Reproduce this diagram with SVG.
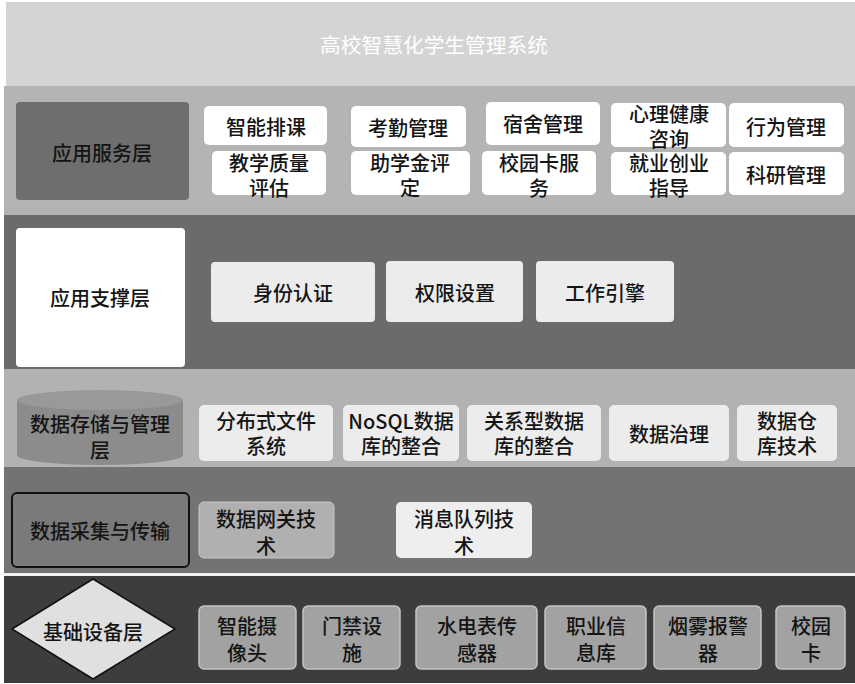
<svg xmlns="http://www.w3.org/2000/svg" width="855" height="684" viewBox="0 0 855 684">
<style>
text{font-family:"Noto Sans CJK SC","Noto Sans",sans-serif;font-size:20px;font-weight:500;fill:#141414;text-anchor:middle;dominant-baseline:central}
.w{fill:#ffffff;font-weight:400}
.sv{fill:#ffffff}
.lg{fill:#ececec}
.bs{fill:#a2a2a2;stroke:#c4c4c4;stroke-width:1.5}
</style>
<rect width="855" height="684" fill="#ffffff"/>
<g id="header">
<rect x="6" y="2" width="849" height="85" fill="#d4d4d4"/>
<text class="w" x="434" y="44" font-size="24" textLength="228" lengthAdjust="spacingAndGlyphs">高校智慧化学生管理系统</text>
</g>
<g id="bands">
<rect x="4" y="86" width="851" height="129" fill="#b4b4b4"/>
<rect x="4" y="215" width="851" height="154" fill="#6b6b6b"/>
<rect x="4" y="369" width="851" height="98" fill="#b2b2b2"/>
<rect x="4" y="467" width="851" height="106" fill="#737373"/>
<rect x="4" y="573" width="851" height="3" fill="#f0f0f0"/>
<rect x="4" y="576" width="851" height="107" fill="#3d3d3d"/>
</g>
<g id="layer-service">
<rect x="16" y="102" width="173" height="98" rx="4" fill="#6e6e6e"/>
<text x="102" y="152">应用服务层</text>
</g>
<g id="n-znpk"><rect class="sv" x="204" y="106" width="123" height="39" rx="5"/><text x="266" y="126">智能排课</text></g>
<g id="n-kqgl"><rect class="sv" x="351" y="106" width="115" height="41" rx="5"/><text x="408" y="127">考勤管理</text></g>
<g id="n-ssgl"><rect class="sv" x="486" y="102" width="114" height="43" rx="5"/><text x="543" y="123">宿舍管理</text></g>
<g id="n-xljk"><rect class="sv" x="611" y="103" width="115" height="44" rx="5"/><text x="669" y="113">心理健康</text><text x="669" y="138">咨询</text></g>
<g id="n-xwgl"><rect class="sv" x="729" y="103" width="115" height="44" rx="5"/><text x="786" y="126">行为管理</text></g>
<g id="n-jxzl"><rect class="sv" x="212" y="151" width="114" height="44" rx="5"/><text x="269" y="162">教学质量</text><text x="269" y="187">评估</text></g>
<g id="n-zxj"><rect class="sv" x="351" y="151" width="119" height="44" rx="5"/><text x="410" y="162">助学金评</text><text x="410" y="187">定</text></g>
<g id="n-xykfw"><rect class="sv" x="482" y="151" width="114" height="44" rx="5"/><text x="539" y="162">校园卡服</text><text x="539" y="187">务</text></g>
<g id="n-jycy"><rect class="sv" x="611" y="152" width="115" height="43" rx="5"/><text x="669" y="162">就业创业</text><text x="669" y="187">指导</text></g>
<g id="n-kygl"><rect class="sv" x="729" y="152" width="115" height="43" rx="5"/><text x="786" y="174">科研管理</text></g>
<g id="layer-support">
<rect x="16" y="228" width="169" height="139" rx="4" fill="#ffffff"/>
<text x="100" y="297">应用支撑层</text>
</g>
<g id="n-sfrz"><rect class="lg" x="211" y="262" width="164" height="60" rx="4"/><text x="293" y="292">身份认证</text></g>
<g id="n-qxsz"><rect class="lg" x="386" y="261" width="137" height="61" rx="4"/><text x="455" y="292">权限设置</text></g>
<g id="n-gzyq"><rect class="lg" x="536" y="261" width="138" height="61" rx="4"/><text x="605" y="292">工作引擎</text></g>
<g id="layer-storage">
<path d="M17 400 L17 455 A83 10 0 0 0 183 455 L183 400 Z" fill="#8c8c8c"/>
<ellipse cx="100" cy="400" rx="83" ry="10" fill="#999999"/>
<text x="100" y="423">数据存储与管理</text>
<text x="100" y="449">层</text>
</g>
<g id="n-fbs"><rect class="lg" x="199" y="405" width="134" height="56" rx="5"/><text x="266" y="420">分布式文件</text><text x="266" y="445">系统</text></g>
<g id="n-nosql"><rect class="lg" x="343" y="405" width="116" height="56" rx="5"/><text x="401" y="420">NoSQL数据</text><text x="401" y="445">库的整合</text></g>
<g id="n-gxx"><rect class="lg" x="467" y="405" width="134" height="56" rx="5"/><text x="534" y="420">关系型数据</text><text x="534" y="445">库的整合</text></g>
<g id="n-sjzl"><rect class="lg" x="609" y="405" width="120" height="56" rx="5"/><text x="669" y="433">数据治理</text></g>
<g id="n-sjck"><rect class="lg" x="737" y="405" width="100" height="56" rx="5"/><text x="787" y="420">数据仓</text><text x="787" y="445">库技术</text></g>
<g id="layer-collect">
<rect x="12" y="493" width="177" height="74" rx="5" fill="#7a7a7a" stroke="#111111" stroke-width="2"/>
<text x="100" y="530">数据采集与传输</text>
</g>
<g id="n-sjwg"><rect x="199" y="502" width="135" height="56" rx="5" fill="#b0b0b0" stroke="#c8c8c8" stroke-width="1"/><text x="266" y="518">数据网关技</text><text x="266" y="545">术</text></g>
<g id="n-xxdl"><rect x="396" y="502" width="136" height="56" rx="5" fill="#eeeeee"/><text x="464" y="518">消息队列技</text><text x="464" y="545">术</text></g>
<g id="layer-base">
<polygon points="12,629 93,579 175,629 93,679" fill="#e0e0e0" stroke="#111111" stroke-width="1.5"/>
<text x="93" y="631">基础设备层</text>
</g>
<g id="n-znsx"><rect class="bs" x="199" y="606" width="97" height="63" rx="5"/><text x="247" y="625">智能摄</text><text x="247" y="652">像头</text></g>
<g id="n-mjss"><rect class="bs" x="303" y="606" width="97" height="63" rx="5"/><text x="352" y="625">门禁设</text><text x="352" y="652">施</text></g>
<g id="n-sdb"><rect class="bs" x="416" y="606" width="121" height="63" rx="5"/><text x="477" y="625">水电表传</text><text x="477" y="652">感器</text></g>
<g id="n-zyxx"><rect class="bs" x="545" y="606" width="101" height="63" rx="5"/><text x="596" y="625">职业信</text><text x="596" y="652">息库</text></g>
<g id="n-ywbj"><rect class="bs" x="654" y="606" width="107" height="63" rx="5"/><text x="708" y="625">烟雾报警</text><text x="708" y="652">器</text></g>
<g id="n-xyk"><rect class="bs" x="776" y="606" width="69" height="63" rx="5"/><text x="811" y="625">校园</text><text x="811" y="652">卡</text></g>
<g id="connectors"></g>
</svg>
